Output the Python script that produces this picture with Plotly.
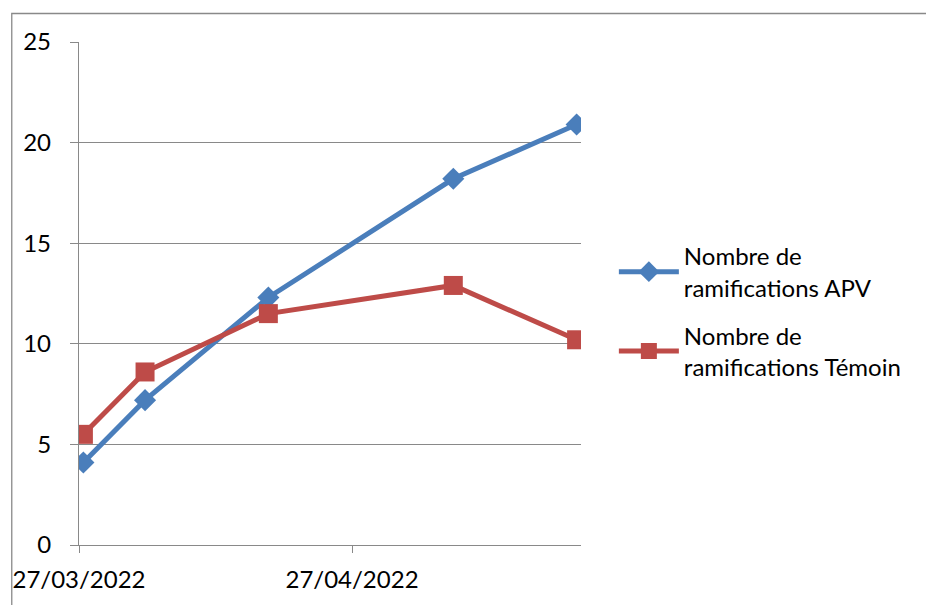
import pandas as pd
import plotly.graph_objects as go

# Observation dates and branch counts
dates = ["2022-03-27", "2022-04-03", "2022-04-17", "2022-05-08", "2022-05-22"]
apv = [4.1, 7.2, 12.3, 18.2, 20.9]
temoin = [5.5, 8.6, 11.5, 12.9, 10.2]

tick_dates = ["2022-03-27", "2022-04-27"]
tick_labels = ["27/03/2022", "27/04/2022"]
y_ticks = [0, 5, 10, 15, 20, 25]

name_apv = "Nombre de<br>ramifications APV"
name_temoin = "Nombre de<br>ramifications Témoin"

BLUE = "#4A7EBB"
RED = "#BE4B48"
GRID = "#898989"
FONT = "Lato"

# Each day occupies a slot; points sit in the middle of their day,
# ticks at the start of the slot.
half_day = pd.Timedelta(hours=12)
x = pd.to_datetime(dates)
tickvals = pd.to_datetime(tick_dates) - half_day
x_range = [x[0] - half_day, x[-1] + half_day]

fig = go.Figure()
fig.add_trace(go.Scatter(
    x=x, y=apv, name=name_apv, mode="lines+markers",
    line=dict(color=BLUE, width=5),
    marker=dict(symbol="diamond", size=17, color=BLUE),
    legendgroup="a",
))
fig.add_trace(go.Scatter(
    x=x, y=temoin, name=name_temoin, mode="lines+markers",
    line=dict(color=RED, width=5),
    marker=dict(symbol="square", size=19, color=RED),
    legendgroup="b",
))

# Plot-area geometry in pixels
W, H = 926, 605
L, R, T, B = 77, 581, 42, 545
pw, ph = R - L, B - T


def px_x(p):
    return (p - L) / pw


def px_y(p):
    return (B - p) / ph


fig.update_layout(
    width=W, height=H,
    margin=dict(l=L, r=W - R, t=T, b=H - B, pad=0),
    paper_bgcolor="white",
    plot_bgcolor="white",
    font=dict(family=FONT, size=24, color="#000000"),
    showlegend=True,
    legend=dict(
        x=px_x(614), y=px_y(234), xanchor="left", yanchor="top",
        font=dict(family=FONT, size=24, color="#000000"),
        bgcolor="rgba(0,0,0,0)",
        tracegroupgap=14,
        itemwidth=60,
    ),
    xaxis=dict(
        type="date",
        range=x_range,
        tickvals=tickvals,
        ticktext=tick_labels,
        showgrid=False,
        zeroline=False,
        showline=True,
        linecolor=GRID,
        linewidth=1.3,
        ticks="outside",
        ticklen=7,
        tickcolor=GRID,
        tickfont=dict(family=FONT, size=24, color="#000000"),
        ticklabelstandoff=6,
    ),
    yaxis=dict(
        range=[0, 25],
        tickvals=y_ticks,
        showgrid=True,
        gridcolor=GRID,
        gridwidth=1.3,
        zeroline=False,
        showline=True,
        linecolor=GRID,
        linewidth=1.3,
        ticks="outside",
        ticklen=8,
        tickcolor=GRID,
        tickfont=dict(family=FONT, size=24, color="#000000"),
        ticklabelstandoff=14,
    ),
    shapes=[
        # chart frame
        dict(type="rect", xref="paper", yref="paper",
             x0=px_x(9.5), x1=px_x(940), y0=px_y(620), y1=px_y(13.5),
             line=dict(color=GRID, width=1.3), fillcolor="rgba(0,0,0,0)",
             layer="below"),
    ],
)

fig.write_html("out.html")
